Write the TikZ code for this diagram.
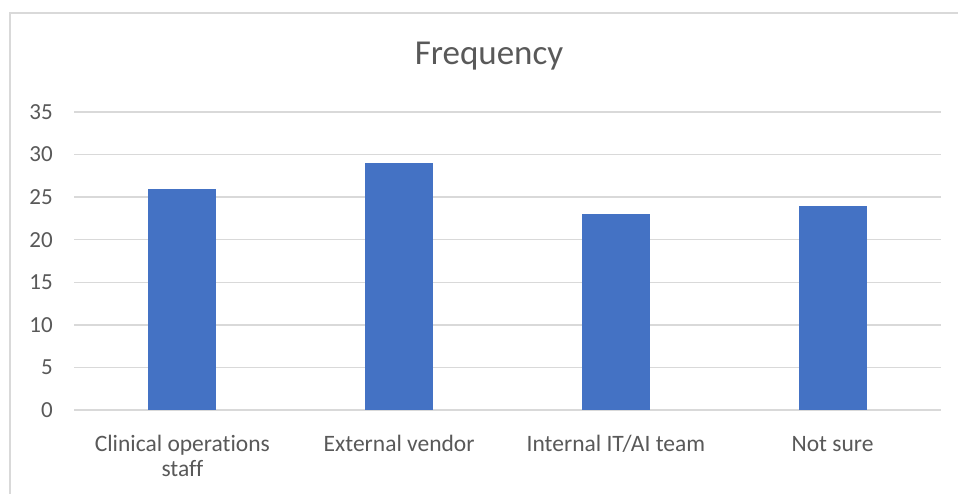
\documentclass[tikz,border=0pt]{standalone}
\usepackage{fontspec}
\setmainfont{Carlito}[Ligatures=NoCommon]
\definecolor{txtc}{HTML}{595959}
\definecolor{gridc}{HTML}{D9D9D9}
\definecolor{barc}{HTML}{4472C4}
\begin{document}
\begin{tikzpicture}[x=1pt,y=-1pt,
  gridline/.style={draw=gridc, line width=1.4pt},
  framec/.style={draw=gridc, line width=1.4pt},
  ticklabel/.style={text=txtc, font=\fontsize{23}{27}\selectfont, inner sep=0pt, anchor=east},
  catlabel/.style={text=txtc, font=\fontsize{23.5}{24.5}\selectfont, inner sep=0pt, align=center, anchor=base},
  titlelabel/.style={text=txtc, font=\fontsize{35}{40}\selectfont, inner sep=0pt, anchor=base},
  barbox/.style={fill=barc, draw=none}]
\useasboundingbox (0,0) rectangle (958,494);
\fill[white] (0,0) rectangle (958,494);
% chart frame
\draw[framec] (10,494) -- (10,13) -- (958,13);
% title
\node[titlelabel] (title) at (489,65) {Frequency};
% grid and tick labels
\foreach \v in {0,5,...,35} {
  \draw[gridline] (74,{410-\v*8.514}) -- (941,{410-\v*8.514});
  \node[ticklabel] (tick\v) at (53,{410-\v*8.514}) {\v};
}
% bars
\foreach \c/\val in {182.4/26, 399.1/29, 615.9/23, 832.6/24} {
  \fill[barc] ({\c-34},410) rectangle ({\c+34},{410-\val*8.514});
}
% category labels
\node[catlabel] (cat1) at (182.4,476) {Clinical operations\\staff};
\node[catlabel] (cat2) at (399.1,451.5) {External vendor};
\node[catlabel] (cat3) at (615.9,451.5) {Internal IT/AI team};
\node[catlabel] (cat4) at (832.6,451.5) {Not sure};
\end{tikzpicture}
\end{document}
